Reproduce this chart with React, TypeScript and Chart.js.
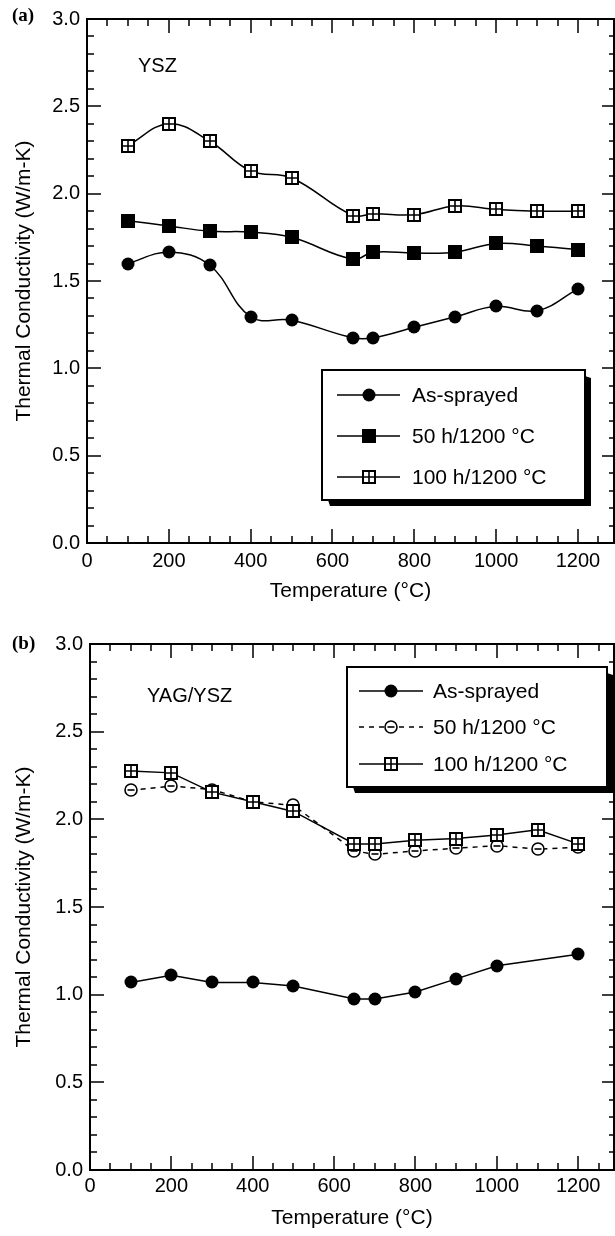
import React, { useEffect, useRef } from "react";
import { Chart, registerables } from "chart.js";

Chart.register(...registerables);

// ---------------- data ----------------
const temperatures = [100, 200, 300, 400, 500, 650, 700, 800, 900, 1000, 1100, 1200];
const temperaturesYagAsSprayed = [100, 200, 300, 400, 500, 650, 700, 800, 900, 1000, 1200];

// (a) YSZ
const yszAsSprayed = [1.6, 1.665, 1.59, 1.295, 1.275, 1.175, 1.175, 1.235, 1.295, 1.355, 1.33, 1.455];
const ysz50h = [1.845, 1.815, 1.785, 1.78, 1.75, 1.625, 1.665, 1.66, 1.665, 1.715, 1.7, 1.68];
const ysz100h = [2.275, 2.4, 2.3, 2.13, 2.09, 1.875, 1.885, 1.88, 1.93, 1.91, 1.9, 1.9];

// (b) YAG/YSZ
const yagAsSprayed = [1.07, 1.11, 1.07, 1.07, 1.05, 0.975, 0.975, 1.015, 1.09, 1.165, 1.23];
const yag50h = [2.165, 2.19, 2.17, 2.1, 2.08, 1.82, 1.8, 1.82, 1.835, 1.85, 1.83, 1.84];
const yag100h = [2.275, 2.265, 2.155, 2.1, 2.045, 1.86, 1.86, 1.88, 1.89, 1.91, 1.94, 1.86];

const xTickValues = [0, 200, 400, 600, 800, 1000, 1200];
const yTickValues = [0, 0.5, 1, 1.5, 2, 2.5, 3];
const seriesLabels = ["As-sprayed", "50 h/1200 \u00B0C", "100 h/1200 \u00B0C"];
const xTitle = "Temperature (\u00B0C)";
const yTitle = "Thermal Conductivity (W/m-K)";

const X_MAX = 1288;
const FONT = "'Liberation Sans', Arial, Helvetica, sans-serif";
const CANVAS_H = 618;

const pts = (xs: number[], ys: number[]) => xs.map((x, i) => ({ x, y: ys[i] }));

// ---------------- marker drawing ----------------
function drawMarker(ctx: CanvasRenderingContext2D, kind: string, x: number, y: number) {
  const cx = Math.round(x);
  const cy = Math.round(y);
  ctx.save();
  ctx.setLineDash([]);
  ctx.strokeStyle = "#000";
  ctx.fillStyle = "#000";
  if (kind === "circle") {
    ctx.beginPath();
    ctx.arc(cx, cy, 6.5, 0, Math.PI * 2);
    ctx.fill();
  } else if (kind === "square") {
    ctx.fillRect(cx - 7, cy - 7, 14, 14);
  } else if (kind === "boxplus") {
    ctx.fillStyle = "#fff";
    ctx.fillRect(cx - 6, cy - 6, 12, 12);
    ctx.lineWidth = 2;
    ctx.strokeRect(cx - 6, cy - 6, 12, 12);
    ctx.lineWidth = 1.6;
    ctx.beginPath();
    ctx.moveTo(cx, cy - 6);
    ctx.lineTo(cx, cy + 6);
    ctx.moveTo(cx - 6, cy);
    ctx.lineTo(cx + 6, cy);
    ctx.stroke();
  } else if (kind === "circlebar") {
    ctx.fillStyle = "#fff";
    ctx.lineWidth = 1.6;
    ctx.beginPath();
    ctx.arc(cx, cy, 6, 0, Math.PI * 2);
    ctx.fill();
    ctx.stroke();
    ctx.beginPath();
    ctx.moveTo(cx - 3.5, cy);
    ctx.lineTo(cx + 3.5, cy);
    ctx.stroke();
  }
  ctx.restore();
}

const markerPlugin = {
  id: "markers",
  afterDatasetDraw(chart: any, args: any) {
    const ds = chart.data.datasets[args.index];
    if (!ds.marker) return;
    const ctx = chart.ctx;
    args.meta.data.forEach((el: any) => drawMarker(ctx, ds.marker, el.x, el.y));
  },
};

// ---------------- decoration plugin (frame, inward ticks, labels, legend) ----------------
const decorPlugin = {
  id: "decor",
  afterDraw(chart: any, _args: any, opts: any) {
    const { ctx, chartArea: ca } = chart;
    const xs = chart.scales.x;
    const ys = chart.scales.y;
    ctx.save();
    ctx.strokeStyle = "#000";
    ctx.lineWidth = 2;
    ctx.strokeRect(ca.left, ca.top, ca.right - ca.left, ca.bottom - ca.top);

    ctx.lineWidth = 1.5;
    ctx.beginPath();
    for (let v = 0; v <= X_MAX; v += 50) {
      const px = Math.round(xs.getPixelForValue(v));
      const major = v % 200 === 0;
      const L = major ? 14 : 7;
      ctx.moveTo(px, ca.bottom);
      ctx.lineTo(px, ca.bottom - L);
      ctx.moveTo(px, ca.top);
      ctx.lineTo(px, ca.top + L);
    }
    for (let i = 0; i <= 30; i++) {
      const py = Math.round(ys.getPixelForValue(i / 10));
      const major = i % 5 === 0;
      const Ll = major ? 14 : 7;
      const Lr = major ? 12 : 5;
      ctx.moveTo(ca.left, py);
      ctx.lineTo(ca.left + Ll, py);
      ctx.moveTo(ca.right, py);
      ctx.lineTo(ca.right - Lr, py);
    }
    ctx.stroke();

    // panel label and material label
    ctx.fillStyle = "#000";
    ctx.textBaseline = "middle";
    ctx.textAlign = "left";
    ctx.font = "bold 19px 'Liberation Serif', 'Times New Roman', serif";
    ctx.fillText(opts.panel, opts.panelX, opts.panelY);
    ctx.font = `20px ${FONT}`;
    ctx.fillText(opts.material, opts.materialX, opts.materialY);

    // legend
    const lg = opts.legend;
    const [l, t, r, b] = lg.box;
    const s = 6;
    ctx.fillStyle = "#000";
    ctx.beginPath();
    ctx.moveTo(r, t + s);
    ctx.lineTo(r + s, t + s + 2);
    ctx.lineTo(r + s, b + s);
    ctx.lineTo(l + s + 2, b + s);
    ctx.lineTo(l + s, b);
    ctx.closePath();
    ctx.fill();
    ctx.fillStyle = "#fff";
    ctx.fillRect(l, t, r - l, b - t);
    ctx.strokeStyle = "#000";
    ctx.lineWidth = 2;
    ctx.strokeRect(l, t, r - l, b - t);

    lg.items.forEach((it: any, i: number) => {
      const y = lg.rows[i];
      ctx.save();
      ctx.lineWidth = 1.5;
      ctx.strokeStyle = "#000";
      ctx.setLineDash(it.dash || []);
      ctx.beginPath();
      ctx.moveTo(lg.lineX[0], y);
      ctx.lineTo(lg.lineX[1], y);
      ctx.stroke();
      ctx.restore();
      drawMarker(ctx, it.kind, (lg.lineX[0] + lg.lineX[1]) / 2, y);
      ctx.fillStyle = "#000";
      ctx.font = `21px ${FONT}`;
      ctx.textBaseline = "middle";
      ctx.textAlign = "left";
      ctx.fillText(it.label, lg.textX, y + 1);
    });
    ctx.restore();
  },
};

function makeOptions(p: any) {
  return {
    responsive: false,
    animation: false,
    events: [],
    layout: { padding: { left: 0, top: p.top, right: 1, bottom: 0 } },
    plugins: {
      legend: { display: false },
      tooltip: { enabled: false },
      decor: p.decor,
    },
    scales: {
      x: {
        type: "linear",
        min: 0,
        max: X_MAX,
        afterBuildTicks: (s: any) => {
          s.ticks = xTickValues.map((v) => ({ value: v }));
        },
        afterFit: (s: any) => {
          s.height = p.canvasH - p.bottom;
        },
        grid: { display: false, drawTicks: false },
        border: { display: false },
        ticks: {
          color: "#000",
          font: { family: FONT, size: 20 },
          padding: p.xTickPad,
          maxRotation: 0,
          autoSkip: false,
          callback: (v: any) => String(v),
        },
        title: {
          display: true,
          text: xTitle,
          color: "#000",
          font: { family: FONT, size: 21 },
          padding: { top: 0, bottom: p.xTitlePad },
        },
      },
      y: {
        type: "linear",
        min: 0,
        max: 3,
        afterBuildTicks: (s: any) => {
          s.ticks = yTickValues.map((v) => ({ value: v }));
        },
        afterFit: (s: any) => {
          s.width = p.left;
        },
        grid: { display: false, drawTicks: false },
        border: { display: false },
        ticks: {
          color: "#000",
          font: { family: FONT, size: 20 },
          padding: 7,
          autoSkip: false,
          callback: (v: any) => Number(v).toFixed(1),
        },
        title: {
          display: true,
          text: yTitle,
          color: "#000",
          font: { family: FONT, size: 21 },
          padding: { top: 12, bottom: 0 },
        },
      },
    },
  };
}

export default function App() {
  const refA = useRef<HTMLCanvasElement>(null);
  const refB = useRef<HTMLCanvasElement>(null);

  useEffect(() => {
    const lineBase = { borderColor: "#000", borderWidth: 1.5, showLine: true, fill: false, pointRadius: 0 };

    const chartA = new Chart(refA.current!, {
      type: "scatter",
      data: {
        datasets: [
          { ...lineBase, label: seriesLabels[2], data: pts(temperatures, ysz100h), tension: 0.4, marker: "boxplus", order: 0 },
          { ...lineBase, label: seriesLabels[1], data: pts(temperatures, ysz50h), tension: 0.4, marker: "square", order: 1 },
          { ...lineBase, label: seriesLabels[0], data: pts(temperatures, yszAsSprayed), tension: 0.4, marker: "circle", order: 2 },
        ] as any,
      },
      options: makeOptions({
        canvasH: CANVAS_H,
        top: 15,
        bottom: 543,
        left: 87,
        xTickPad: 6,
        xTitlePad: 14,
        decor: {
          panel: "(a)",
          panelX: 12,
          panelY: 16,
          material: "YSZ",
          materialX: 138,
          materialY: 66,
          legend: {
            box: [322, 370, 585, 500],
            rows: [395, 436, 477],
            lineX: [337, 400],
            textX: 412,
            items: [
              { kind: "circle", label: seriesLabels[0] },
              { kind: "square", label: seriesLabels[1] },
              { kind: "boxplus", label: seriesLabels[2] },
            ],
          },
        },
      }) as any,
      plugins: [markerPlugin, decorPlugin],
    });

    const chartB = new Chart(refB.current!, {
      type: "scatter",
      data: {
        datasets: [
          { ...lineBase, label: seriesLabels[2], data: pts(temperatures, yag100h), tension: 0, marker: "boxplus", order: 0 },
          { ...lineBase, label: seriesLabels[1], data: pts(temperatures, yag50h), tension: 0, borderDash: [5, 5], marker: "circlebar", order: 1 },
          { ...lineBase, label: seriesLabels[0], data: pts(temperaturesYagAsSprayed, yagAsSprayed), tension: 0, marker: "circle", order: 2 },
        ] as any,
      },
      options: makeOptions({
        canvasH: CANVAS_H,
        top: 26,
        bottom: 552,
        left: 90,
        xTickPad: 4,
        xTitlePad: 5,
        decor: {
          panel: "(b)",
          panelX: 12,
          panelY: 26,
          material: "YAG/YSZ",
          materialX: 147,
          materialY: 78,
          legend: {
            box: [347, 667 - CANVAS_H, 607, 787 - CANVAS_H],
            rows: [691, 727, 764].map((v) => v - CANVAS_H),
            lineX: [359, 423],
            textX: 433,
            items: [
              { kind: "circle", label: seriesLabels[0] },
              { kind: "circlebar", dash: [5, 5], label: seriesLabels[1] },
              { kind: "boxplus", label: seriesLabels[2] },
            ],
          },
        },
      }) as any,
      plugins: [markerPlugin, decorPlugin],
    });

    return () => {
      chartA.destroy();
      chartB.destroy();
    };
  }, []);

  return (
    <div style={{ position: "absolute", left: 0, top: 0, width: 615, height: 1236, background: "#fff" }}>
      <canvas
        ref={refA}
        width={615}
        height={CANVAS_H}
        style={{ position: "absolute", left: 0, top: 0, width: 615, height: CANVAS_H }}
      />
      <canvas
        ref={refB}
        width={615}
        height={CANVAS_H}
        style={{ position: "absolute", left: 0, top: CANVAS_H, width: 615, height: CANVAS_H }}
      />
    </div>
  );
}
